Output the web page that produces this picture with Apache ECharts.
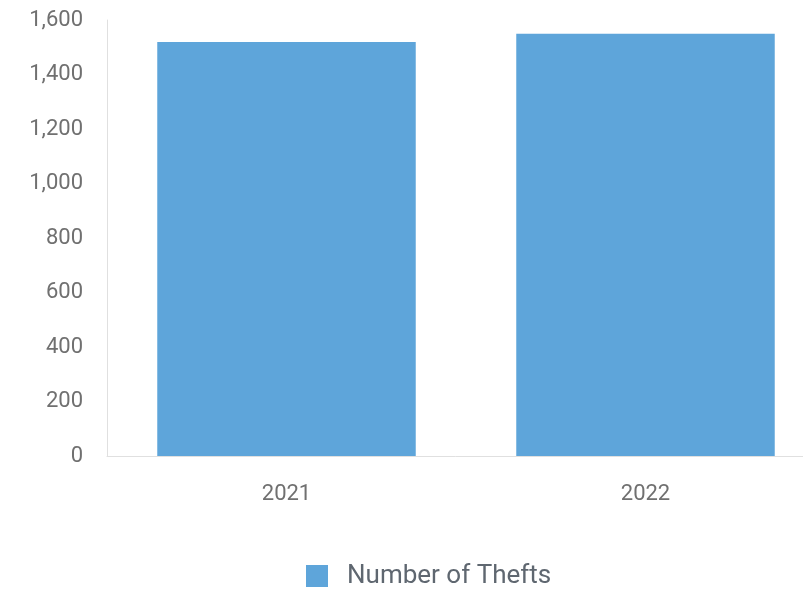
<!DOCTYPE html>
<html><head><meta charset="utf-8">
<script src="https://cdn.jsdelivr.net/npm/echarts@6/dist/echarts.min.js"></script>
<style>html,body{margin:0;padding:0;background:#fff}#c{width:803px;height:602px}</style>
</head><body><div id="c"></div>
<script>
var categories = ['2021', '2022'];
var thefts = [1519, 1550];
var seriesName = 'Number of Thefts';

var chart = echarts.init(document.getElementById('c'), null, {renderer: 'canvas'});
chart.setOption({
  animation: false,
  grid: {left: 107, width: 718, top: 20, bottom: 146, containLabel: false, outerBoundsMode: 'none'},
  legend: {
    data: [seriesName], top: 558, left: 301,
    itemWidth: 22, itemHeight: 22, itemGap: 10,
    icon: 'rect',
    textStyle: {fontFamily: 'Roboto', fontSize: 26, color: '#5f6770', padding: [0, 0, 0, 14]}
  },
  xAxis: {
    type: 'category', data: categories,
    axisLine: {lineStyle: {color: '#e0e0e0', width: 1}},
    axisTick: {show: false},
    axisLabel: {fontFamily: 'Roboto', fontSize: 22, color: '#707070', margin: 27}
  },
  yAxis: {
    type: 'value', min: 0, max: 1600, interval: 200,
    axisLine: {show: true, lineStyle: {color: '#e0e0e0'}},
    splitLine: {show: false},
    axisTick: {show: false},
    axisLabel: {fontFamily: 'Roboto', fontSize: 22, color: '#707070', margin: 24,
      formatter: function (v) { return v.toLocaleString('en-US'); }}
  },
  series: [{
    name: seriesName, type: 'bar', data: thefts,
    barCategoryGap: '28%',
    itemStyle: {color: '#5ea5da'}
  }]
});
</script></body></html>
